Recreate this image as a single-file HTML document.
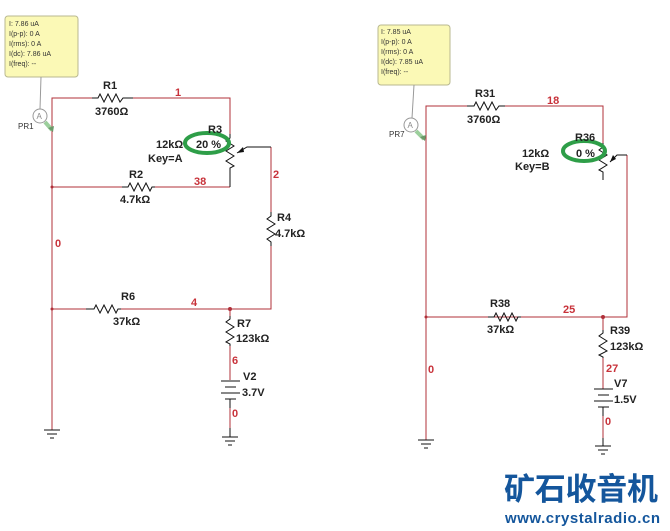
<!DOCTYPE html>
<html><head><meta charset="utf-8"><style>
html,body{margin:0;padding:0;background:#fff}
svg{display:block}
text{font-family:"Liberation Sans",Arial,sans-serif}
.lbl{font-size:11px;font-weight:bold;fill:#222}
.net{font-size:11px;font-weight:bold;fill:#c8323a}
.pb{font-size:7px;fill:#333}
</style></head><body>
<svg width="670" height="531" viewBox="0 0 670 531" xmlns="http://www.w3.org/2000/svg">
<g fill="none" stroke-width="1">
<!-- LEFT CIRCUIT wires -->
<g stroke="#b0303a">
<polyline points="92,98 52,98 52,430"/>
<polyline points="133,98 230,98 230,134"/>
<polyline points="52,187 122,187"/>
<polyline points="155,187 230,187"/>
<polyline points="271,147 271,212"/>
<polyline points="271,246 271,309 52,309"/>
<polyline points="230,309 230,316"/>
<polyline points="230,346 230,380"/>
<polyline points="230,408 230,428"/>
</g>
<rect x="88" y="305" width="30" height="8" fill="#fff" stroke="none"/>
<g stroke="#111">
<polyline points="92,98 98,98 100,94 104,102 108,94 112,102 116,94 120,102 123,98 133,98"/>
<polyline points="122,187 128,187 130,183 134,191 138,183 142,191 146,183 150,191 152,187 155,187"/>
<polyline points="86,309 94,309 96,305 100,313 104,305 108,313 112,305 116,313 118,309 121,309"/>
<polyline points="230,134 230,138 226,141 234,146 226,151 234,156 226,161 234,166 230,168 230,187"/>
<polyline points="237,153 247,147 271,147"/>
<polyline points="271,212 271,216 267,219 275,224 267,229 275,234 267,239 271,242 271,246"/>
<polyline points="230,316 230,319 226,322 234,327 226,332 234,337 226,342 230,344 230,346"/>
<line x1="221" y1="381" x2="240" y2="381"/><line x1="225" y1="387" x2="236" y2="387"/>
<line x1="221" y1="393" x2="240" y2="393"/><line x1="225" y1="399" x2="236" y2="399"/>
<line x1="230" y1="399" x2="230" y2="408"/>
<line x1="230" y1="428" x2="230" y2="437"/>
<line x1="222" y1="437" x2="238" y2="437"/><line x1="225" y1="441" x2="235" y2="441"/><line x1="228" y1="445" x2="232" y2="445"/>
<line x1="52" y1="430" x2="52" y2="430"/>
<line x1="44" y1="430" x2="60" y2="430"/><line x1="47" y1="434" x2="57" y2="434"/><line x1="50" y1="438" x2="54" y2="438"/>
</g>
<path d="M237,153 l6,-6 l1,5 z" fill="#111" stroke="none"/>
<circle cx="52" cy="187" r="1.5" fill="#b0303a"/>
<circle cx="52" cy="309" r="1.5" fill="#b0303a"/>
<circle cx="230" cy="309" r="2" fill="#b0303a"/>
<!-- probe 1 -->
<rect x="5" y="16" width="73" height="61" rx="3" fill="#fbf9b6" stroke="#b8b890"/>
<line x1="41" y1="77" x2="40" y2="109" stroke="#999"/>
<circle cx="40" cy="116" r="7" fill="#fff" stroke="#999"/>
<line x1="45" y1="122" x2="52" y2="130" stroke="#9ccf9c" stroke-width="4"/>
<path d="M48,128 l6,-2 l-1,6z" fill="#6a9a6a"/>
<ellipse cx="207" cy="143" rx="22" ry="10" stroke="#2e9e48" stroke-width="4"/>

<!-- RIGHT CIRCUIT -->
<g stroke="#b0303a">
<polyline points="467,106 426,106 426,440"/>
<polyline points="505,106 603,106 603,143"/>
<polyline points="627,155 627,317 426,317"/>
<polyline points="603,317 603,330"/>
<polyline points="603,358 603,389"/>
<polyline points="603,416 603,438"/>
</g>
<g stroke="#111">
<polyline points="467,106 474,106 476,102 480,110 484,102 488,110 492,102 496,110 499,106 505,106"/>
<polyline points="488,317 494,317 496,313 500,321 504,313 508,321 512,313 516,321 518,317 521,317"/>
<polyline points="603,143 603,147 599,150 607,155 599,160 607,165 599,170 603,172 603,180"/>
<polyline points="610,162 617,155 627,155"/>
<polyline points="603,330 603,333 599,336 607,341 599,346 607,351 599,355 603,357 603,358"/>
<line x1="594" y1="389" x2="613" y2="389"/><line x1="598" y1="395" x2="609" y2="395"/>
<line x1="594" y1="401" x2="613" y2="401"/><line x1="598" y1="407" x2="609" y2="407"/>
<line x1="603" y1="407" x2="603" y2="416"/>
<line x1="603" y1="438" x2="603" y2="446"/>
<line x1="595" y1="446" x2="611" y2="446"/><line x1="598" y1="450" x2="608" y2="450"/><line x1="601" y1="454" x2="605" y2="454"/>
<line x1="418" y1="440" x2="434" y2="440"/><line x1="421" y1="444" x2="431" y2="444"/><line x1="424" y1="448" x2="428" y2="448"/>
</g>
<path d="M610,162 l3,-7 l3,4 z" fill="#111" stroke="none"/>
<circle cx="426" cy="317" r="1.5" fill="#b0303a"/>
<circle cx="603" cy="317" r="2" fill="#b0303a"/>
<rect x="378" y="25" width="72" height="60" rx="3" fill="#fbf9b6" stroke="#b8b890"/>
<line x1="414" y1="85" x2="412" y2="118" stroke="#999"/>
<circle cx="411" cy="125" r="7" fill="#fff" stroke="#999"/>
<line x1="416" y1="131" x2="424" y2="139" stroke="#9ccf9c" stroke-width="4"/>
<path d="M420,137 l6,-2 l-1,6z" fill="#6a9a6a"/>
<ellipse cx="584" cy="151" rx="21" ry="10" stroke="#2e9e48" stroke-width="4"/>
</g>

<!-- probe text -->
<text class="pb" x="9" y="26">I: 7.86 uA</text>
<text class="pb" x="9" y="36">I(p-p): 0 A</text>
<text class="pb" x="9" y="46">I(rms): 0 A</text>
<text class="pb" x="9" y="56">I(dc): 7.86 uA</text>
<text class="pb" x="9" y="66">I(freq): --</text>
<text x="36.5" y="119" font-size="8" fill="#888">A</text>
<text x="18" y="129" font-size="8" fill="#333">PR1</text>
<text class="pb" x="381" y="34">I: 7.85 uA</text>
<text class="pb" x="381" y="44">I(p-p): 0 A</text>
<text class="pb" x="381" y="54">I(rms): 0 A</text>
<text class="pb" x="381" y="64">I(dc): 7.85 uA</text>
<text class="pb" x="381" y="74">I(freq): --</text>
<text x="407.5" y="128" font-size="8" fill="#888">A</text>
<text x="389" y="137" font-size="8" fill="#333">PR7</text>

<!-- left labels -->
<text class="lbl" x="103" y="89">R1</text>
<text class="lbl" x="95" y="115">3760Ω</text>
<text class="net" x="175" y="96">1</text>
<text class="lbl" x="208" y="133">R3</text>
<text class="lbl" x="156" y="148">12kΩ</text>
<text class="lbl" x="196" y="148">20 %</text>
<text class="lbl" x="148" y="162">Key=A</text>
<text class="lbl" x="129" y="178">R2</text>
<text class="lbl" x="120" y="203">4.7kΩ</text>
<text class="net" x="194" y="185">38</text>
<text class="net" x="273" y="178">2</text>
<text class="lbl" x="277" y="221">R4</text>
<text class="lbl" x="275" y="237">4.7kΩ</text>
<text class="net" x="55" y="247">0</text>
<text class="lbl" x="121" y="300" font-size="10">R6</text>
<text class="lbl" x="113" y="325" font-size="10">37kΩ</text>
<text class="net" x="191" y="306">4</text>
<text class="lbl" x="237" y="327">R7</text>
<text class="lbl" x="236" y="342">123kΩ</text>
<text class="net" x="232" y="364">6</text>
<text class="lbl" x="243" y="380">V2</text>
<text class="lbl" x="242" y="396">3.7V</text>
<text class="net" x="232" y="417">0</text>

<!-- right labels -->
<text class="lbl" x="475" y="97">R31</text>
<text class="lbl" x="467" y="123">3760Ω</text>
<text class="net" x="547" y="104">18</text>
<text class="lbl" x="575" y="141">R36</text>
<text class="lbl" x="522" y="157">12kΩ</text>
<text class="lbl" x="576" y="157">0 %</text>
<text class="lbl" x="515" y="170">Key=B</text>
<text class="lbl" x="490" y="307" font-size="10">R38</text>
<text class="lbl" x="487" y="333" font-size="10">37kΩ</text>
<text class="net" x="563" y="313">25</text>
<text class="lbl" x="610" y="334">R39</text>
<text class="lbl" x="610" y="350">123kΩ</text>
<text class="net" x="606" y="372">27</text>
<text class="lbl" x="614" y="387">V7</text>
<text class="lbl" x="614" y="403">1.5V</text>
<text class="net" x="605" y="425">0</text>
<text class="net" x="428" y="373">0</text>

<!-- watermark -->
<text x="504" y="500" font-size="31" font-weight="bold" fill="#14569c" style="font-family:'Liberation Sans','Noto Sans CJK SC',sans-serif" textLength="154">矿石收音机</text>
<text x="505" y="523" font-size="15" font-weight="bold" fill="#14569c" textLength="155">www.crystalradio.cn</text>
</svg>
</body></html>
